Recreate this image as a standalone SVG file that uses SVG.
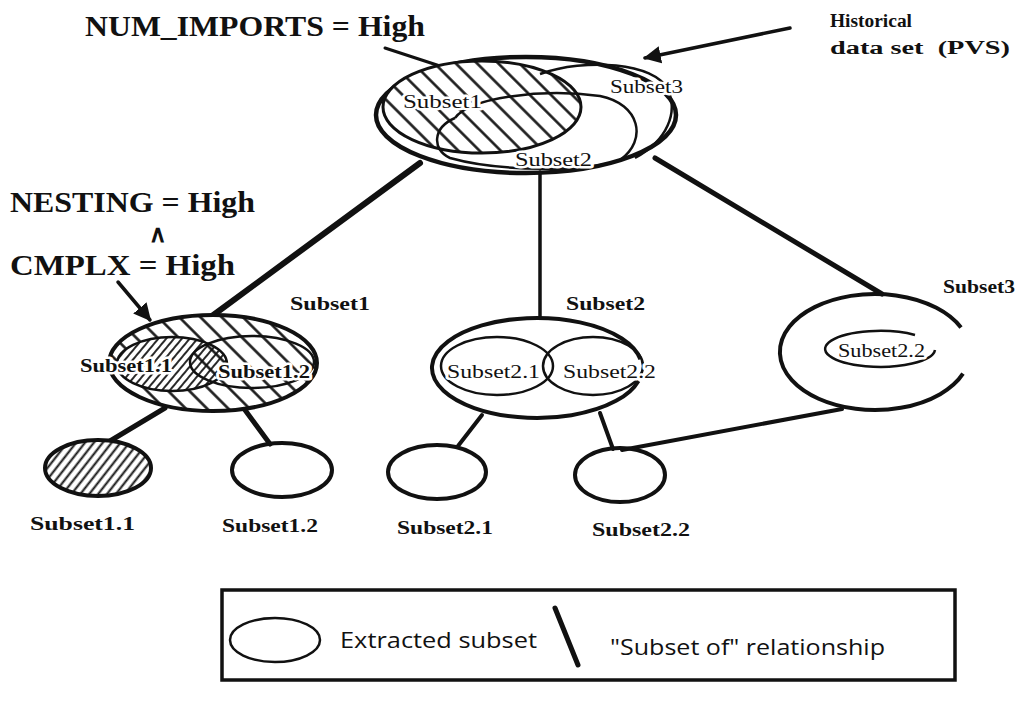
<svg xmlns="http://www.w3.org/2000/svg" width="1030" height="705" viewBox="0 0 1030 705">
<defs>
<style>
.big{font-family:"Liberation Serif",serif;font-weight:bold;font-size:30px;fill:#111}
.lb{font-family:"Liberation Serif",serif;font-weight:bold;font-size:18px;fill:#111}
.ln{font-family:"Liberation Serif",serif;font-size:19px;fill:#111}
.halo{stroke:#fff;stroke-width:5;paint-order:stroke;stroke-linejoin:round}
.leg{font-family:"Open Sans","DejaVu Sans",sans-serif;font-size:22px;fill:#111}
.ell{fill:none;stroke:#111}
.con{stroke:#111;stroke-linecap:round;fill:none}
</style>
<pattern id="coarse" width="15" height="15" patternUnits="userSpaceOnUse" patternTransform="rotate(-45)">
<rect width="15" height="15" fill="#fff"/>
<line x1="7.5" y1="0" x2="7.5" y2="15" stroke="#111" stroke-width="2.5"/>
</pattern>
<pattern id="coarseT" width="15" height="15" patternUnits="userSpaceOnUse" patternTransform="rotate(-45)">
<line x1="7.5" y1="0" x2="7.5" y2="15" stroke="#111" stroke-width="2.5"/>
</pattern>
<pattern id="fine" width="6" height="6" patternUnits="userSpaceOnUse" patternTransform="rotate(40)">
<rect width="6" height="6" fill="#fff"/>
<line x1="3" y1="0" x2="3" y2="6" stroke="#111" stroke-width="1.8"/>
</pattern>
<pattern id="fine2" width="7" height="7" patternUnits="userSpaceOnUse" patternTransform="rotate(38)">
<rect width="7" height="7" fill="#fff"/>
<line x1="3.5" y1="0" x2="3.5" y2="7" stroke="#111" stroke-width="2"/>
</pattern>
<clipPath id="clip12"><ellipse cx="252" cy="362" rx="62" ry="26"/></clipPath>
<marker id="arr" viewBox="0 0 10 10" refX="9" refY="5" markerWidth="5" markerHeight="5" orient="auto" markerUnits="strokeWidth">
<path d="M0,0 L10,5 L0,10 z" fill="#111"/>
</marker>
</defs>
<rect width="1030" height="705" fill="#fff"/>

<g id="connectors">
<line class="con" x1="420" y1="163" x2="212" y2="316" stroke-width="6"/>
<line class="con" x1="540" y1="172" x2="540" y2="318" stroke-width="3.5"/>
<line class="con" x1="655" y1="158" x2="882" y2="294" stroke-width="5"/>
<line class="con" x1="165" y1="408" x2="110" y2="441" stroke-width="5"/>
<line class="con" x1="245" y1="410" x2="270" y2="444" stroke-width="5"/>
<line class="con" x1="482" y1="415" x2="458" y2="446" stroke-width="4"/>
<line class="con" x1="600" y1="413" x2="613" y2="449" stroke-width="4"/>
<line class="con" x1="622" y1="450" x2="842" y2="409" stroke-width="4"/>
<line class="con" x1="790" y1="28" x2="645" y2="58" stroke-width="3.5" marker-end="url(#arr)"/>
<line class="con" x1="118" y1="282" x2="150" y2="320" stroke-width="3.5" marker-end="url(#arr)"/>
<line class="con" x1="385" y1="48" x2="440" y2="66" stroke-width="3"/>
</g>

<g id="labels-top">
<text class="big" x="85" y="36" textLength="340" lengthAdjust="spacingAndGlyphs">NUM_IMPORTS = High</text>
<text class="lb" x="830" y="27" style="font-size:18px" textLength="82" lengthAdjust="spacingAndGlyphs">Historical</text>
<text class="lb" x="830" y="54" style="font-size:18px" textLength="180" lengthAdjust="spacingAndGlyphs" xml:space="preserve">data set  (PVS)</text>
<text class="big" x="10" y="212" textLength="245" lengthAdjust="spacingAndGlyphs">NESTING = High</text>
<text class="big" x="149" y="242" style="font-size:24px">∧</text>
<text class="big" x="10" y="275" textLength="225" lengthAdjust="spacingAndGlyphs">CMPLX = High</text>
</g>

<g id="pvs">
<ellipse class="ell" cx="526" cy="115" rx="150" ry="58" stroke-width="4.5" fill="#fff"/>
<ellipse cx="482" cy="107" rx="99" ry="46" fill="url(#coarse)" stroke="#111" stroke-width="3"/>
<path class="ell" stroke-width="2.5" d="M 540 74 C 585 58, 655 62, 668 90 C 678 112, 668 140, 635 158"/>
<path class="ell" stroke-width="2.5" d="M 455 118 C 470 98, 540 88, 600 96 C 640 104, 648 140, 620 160 C 590 172, 500 172, 450 158 C 432 150, 432 128, 455 118"/>
<text class="ln halo" x="403" y="108" textLength="79" lengthAdjust="spacingAndGlyphs">Subset1</text>
<text class="ln halo" x="610" y="93" textLength="73" lengthAdjust="spacingAndGlyphs">Subset3</text>
<text class="ln halo" x="515" y="166" textLength="77" lengthAdjust="spacingAndGlyphs">Subset2</text>
</g>

<g id="subset1">
<ellipse cx="213" cy="363" rx="104" ry="48" fill="url(#coarse)" stroke="#111" stroke-width="4"/>
<ellipse cx="172" cy="364" rx="55" ry="27" fill="url(#fine)" stroke="#111" stroke-width="2.5"/>
<ellipse cx="172" cy="364" rx="55" ry="27" fill="url(#coarseT)" clip-path="url(#clip12)"/>
<ellipse class="ell" cx="252" cy="362" rx="62" ry="26" stroke-width="2.5"/>
<text class="lb halo" x="80" y="372" textLength="92" lengthAdjust="spacingAndGlyphs">Subset1.1</text>
<text class="lb halo" x="218" y="378" textLength="92" lengthAdjust="spacingAndGlyphs">Subset1.2</text>
<text class="lb" x="290" y="310" textLength="80" lengthAdjust="spacingAndGlyphs">Subset1</text>
</g>

<g id="subset2">
<path class="ell" stroke-width="4" d="M 640.4 359.3 A 105 50 0 1 0 638.4 380.9"/>
<ellipse class="ell" cx="497" cy="366" rx="56" ry="29" stroke-width="2.5"/>
<ellipse class="ell" cx="593" cy="366" rx="50" ry="29" stroke-width="2.5"/>
<text class="ln halo" x="447" y="378" textLength="93" lengthAdjust="spacingAndGlyphs">Subset2.1</text>
<text class="ln halo" x="563" y="378" textLength="93" lengthAdjust="spacingAndGlyphs">Subset2.2</text>
<text class="lb" x="566" y="310" textLength="79" lengthAdjust="spacingAndGlyphs">Subset2</text>
</g>

<g id="subset3">
<path class="ell" stroke-width="4" d="M 961 327.5 A 95 58 0 1 0 963 373.7"/>
<path class="ell" stroke-width="2.5" d="M 915 335 A 55 18 0 1 0 935 350"/>
<text class="ln halo" x="838" y="357" textLength="87" lengthAdjust="spacingAndGlyphs">Subset2.2</text>
<text class="lb" x="943" y="293" textLength="72" lengthAdjust="spacingAndGlyphs">Subset3</text>
</g>

<g id="subset1-1">
<ellipse cx="98" cy="468" rx="53" ry="28" fill="url(#fine2)" stroke="#111" stroke-width="4"/>
<text class="lb" x="30" y="530" textLength="105" lengthAdjust="spacingAndGlyphs">Subset1.1</text>
</g>
<g id="subset1-2">
<ellipse class="ell" cx="282" cy="470" rx="50" ry="27" stroke-width="4"/>
<text class="lb" x="222" y="532" textLength="96" lengthAdjust="spacingAndGlyphs">Subset1.2</text>
</g>
<g id="subset2-1">
<ellipse class="ell" cx="437" cy="472" rx="49" ry="27" stroke-width="4"/>
<text class="lb" x="397" y="534" textLength="96" lengthAdjust="spacingAndGlyphs">Subset2.1</text>
</g>
<g id="subset2-2">
<ellipse class="ell" cx="620" cy="475" rx="45" ry="27" stroke-width="4"/>
<text class="lb" x="592" y="536" textLength="98" lengthAdjust="spacingAndGlyphs">Subset2.2</text>
</g>

<g id="legend">
<rect x="222" y="590" width="733" height="90" fill="none" stroke="#111" stroke-width="3.5"/>
<ellipse class="ell" cx="275" cy="640" rx="45" ry="22" stroke-width="2.5"/>
<text class="leg" x="340" y="648" textLength="197" lengthAdjust="spacingAndGlyphs">Extracted subset</text>
<line class="con" x1="555" y1="608" x2="578" y2="665" stroke-width="5"/>
<text class="leg" x="610" y="655" textLength="275" lengthAdjust="spacingAndGlyphs">"Subset of" relationship</text>
</g>
</svg>
